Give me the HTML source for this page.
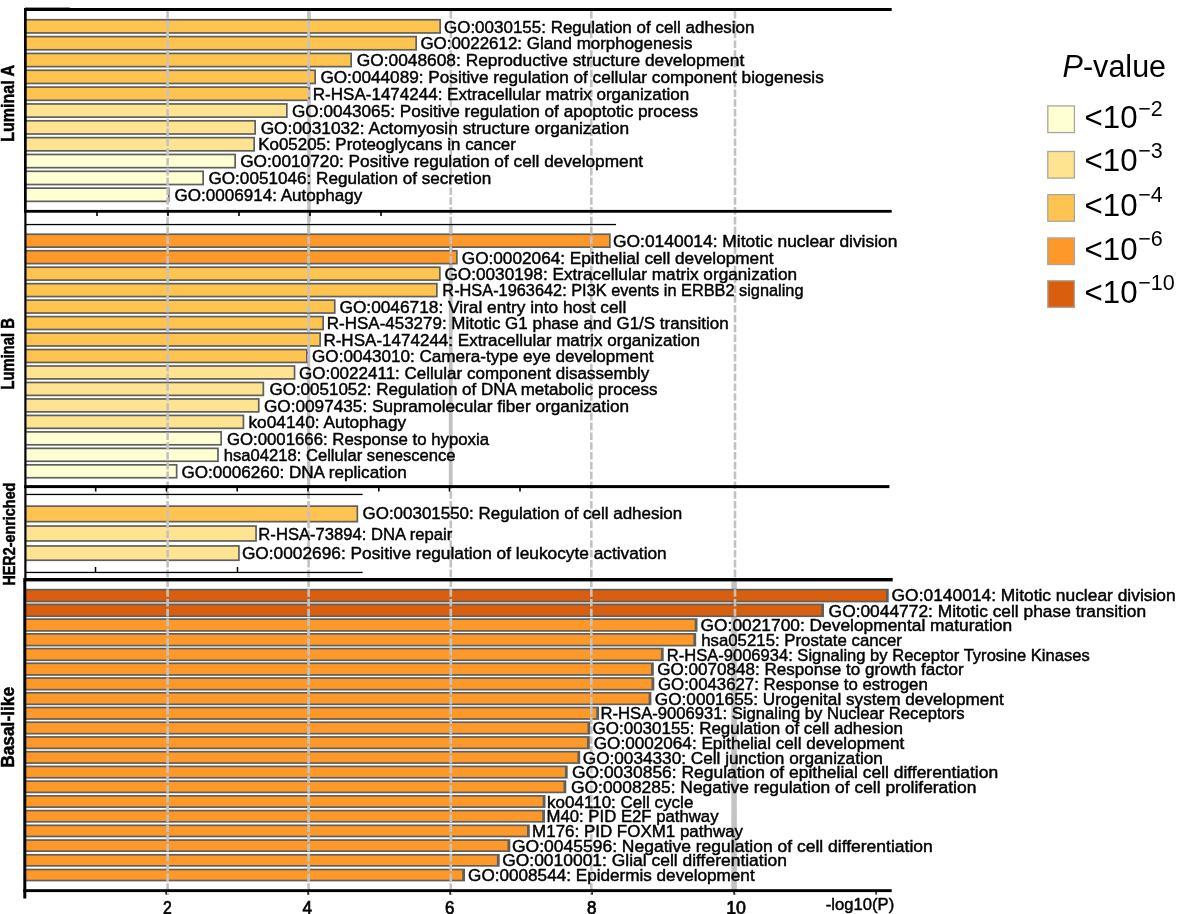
<!DOCTYPE html><html><head><meta charset="utf-8"><style>html,body{margin:0;padding:0;background:#fff;}svg{display:block;}text{font-family:"Liberation Sans", sans-serif;}</style></head><body>
<svg style="will-change:transform" width="1200" height="914" viewBox="0 0 1200 914">
<rect width="1200" height="914" fill="#fff"/>
<rect x="307.3" y="11.5" width="3.5" height="210.5" fill="#c4c4c4"/>
<rect x="448.8" y="225" width="3.8" height="260.5" fill="#c4c4c4"/>
<rect x="307" y="225" width="3.3" height="260.5" fill="#c4c4c4"/>
<rect x="731.3" y="581.5" width="5.5" height="308" fill="#c4c4c4"/>
<rect x="25" y="18.9" width="416" height="14.9" fill="#5f5f5c"/>
<rect x="25" y="20.6" width="414.3" height="11.5" fill="#fec44f"/>
<rect x="25" y="35.74" width="392" height="14.9" fill="#5f5f5c"/>
<rect x="25" y="37.44" width="390.3" height="11.5" fill="#fec44f"/>
<rect x="25" y="52.58" width="327" height="14.9" fill="#5f5f5c"/>
<rect x="25" y="54.28" width="325.3" height="11.5" fill="#fec44f"/>
<rect x="25" y="69.42" width="291" height="14.9" fill="#5f5f5c"/>
<rect x="25" y="71.12" width="289.3" height="11.5" fill="#fec44f"/>
<rect x="25" y="86.26" width="285" height="14.9" fill="#5f5f5c"/>
<rect x="25" y="87.96" width="283.3" height="11.5" fill="#fec44f"/>
<rect x="25" y="103.1" width="262.7" height="14.9" fill="#5f5f5c"/>
<rect x="25" y="104.8" width="261" height="11.5" fill="#fee391"/>
<rect x="25" y="119.94" width="231" height="14.9" fill="#5f5f5c"/>
<rect x="25" y="121.64" width="229.3" height="11.5" fill="#fee391"/>
<rect x="25" y="136.78" width="230" height="14.9" fill="#5f5f5c"/>
<rect x="25" y="138.48" width="228.3" height="11.5" fill="#fee391"/>
<rect x="25" y="153.62" width="211" height="14.9" fill="#5f5f5c"/>
<rect x="25" y="155.32" width="209.3" height="11.5" fill="#ffffd4"/>
<rect x="25" y="170.46" width="179" height="14.9" fill="#5f5f5c"/>
<rect x="25" y="172.16" width="177.3" height="11.5" fill="#ffffd4"/>
<rect x="25" y="187.3" width="144.6" height="14.9" fill="#5f5f5c"/>
<rect x="25" y="189" width="142.9" height="11.5" fill="#ffffd4"/>
<rect x="25" y="233.4" width="585.7" height="14.6" fill="#5f5f5c"/>
<rect x="25" y="235.1" width="584" height="11.2" fill="#fe9929"/>
<rect x="25" y="249.87" width="432.7" height="14.6" fill="#5f5f5c"/>
<rect x="25" y="251.57" width="431" height="11.2" fill="#fe9929"/>
<rect x="25" y="266.34" width="415.7" height="14.6" fill="#5f5f5c"/>
<rect x="25" y="268.04" width="414" height="11.2" fill="#fec44f"/>
<rect x="25" y="282.81" width="412.7" height="14.6" fill="#5f5f5c"/>
<rect x="25" y="284.51" width="411" height="11.2" fill="#fec44f"/>
<rect x="25" y="299.28" width="310.6" height="14.6" fill="#5f5f5c"/>
<rect x="25" y="300.98" width="308.9" height="11.2" fill="#fec44f"/>
<rect x="25" y="315.75" width="299" height="14.6" fill="#5f5f5c"/>
<rect x="25" y="317.45" width="297.3" height="11.2" fill="#fec44f"/>
<rect x="25" y="332.22" width="296" height="14.6" fill="#5f5f5c"/>
<rect x="25" y="333.92" width="294.3" height="11.2" fill="#fec44f"/>
<rect x="25" y="348.69" width="282.7" height="14.6" fill="#5f5f5c"/>
<rect x="25" y="350.39" width="281" height="11.2" fill="#fec44f"/>
<rect x="25" y="365.16" width="270.4" height="14.6" fill="#5f5f5c"/>
<rect x="25" y="366.86" width="268.7" height="11.2" fill="#fee391"/>
<rect x="25" y="381.63" width="239.2" height="14.6" fill="#5f5f5c"/>
<rect x="25" y="383.33" width="237.5" height="11.2" fill="#fee391"/>
<rect x="25" y="398.1" width="234.6" height="14.6" fill="#5f5f5c"/>
<rect x="25" y="399.8" width="232.9" height="11.2" fill="#fee391"/>
<rect x="25" y="414.57" width="219.3" height="14.6" fill="#5f5f5c"/>
<rect x="25" y="416.27" width="217.6" height="11.2" fill="#fee391"/>
<rect x="25" y="431.04" width="197" height="14.6" fill="#5f5f5c"/>
<rect x="25" y="432.74" width="195.3" height="11.2" fill="#ffffd4"/>
<rect x="25" y="447.51" width="193.8" height="14.6" fill="#5f5f5c"/>
<rect x="25" y="449.21" width="192.1" height="11.2" fill="#ffffd4"/>
<rect x="25" y="463.98" width="152.5" height="14.6" fill="#5f5f5c"/>
<rect x="25" y="465.68" width="150.8" height="11.2" fill="#ffffd4"/>
<rect x="25" y="505.3" width="333.2" height="17.2" fill="#5f5f5c"/>
<rect x="25" y="507" width="331.5" height="13.8" fill="#fec44f"/>
<rect x="25" y="525.2" width="231.9" height="16.6" fill="#5f5f5c"/>
<rect x="25" y="526.9" width="230.2" height="13.2" fill="#fee391"/>
<rect x="25" y="545.1" width="214.8" height="16" fill="#5f5f5c"/>
<rect x="25" y="546.8" width="213.1" height="12.6" fill="#fee391"/>
<rect x="25" y="588.8" width="863.7" height="13.6" fill="#5f5f5c"/>
<rect x="25" y="590.5" width="860.9" height="10.2" fill="#d95f0e"/>
<rect x="25" y="603.53" width="799" height="13.55" fill="#5f5f5c"/>
<rect x="25" y="605.23" width="796.2" height="10.15" fill="#d95f0e"/>
<rect x="25" y="618.26" width="672.5" height="13.51" fill="#5f5f5c"/>
<rect x="25" y="619.96" width="669.7" height="10.11" fill="#fe9929"/>
<rect x="25" y="632.99" width="671.2" height="13.46" fill="#5f5f5c"/>
<rect x="25" y="634.69" width="668.4" height="10.06" fill="#fe9929"/>
<rect x="25" y="647.72" width="638.7" height="13.41" fill="#5f5f5c"/>
<rect x="25" y="649.42" width="635.9" height="10.01" fill="#fe9929"/>
<rect x="25" y="662.45" width="628.8" height="13.36" fill="#5f5f5c"/>
<rect x="25" y="664.15" width="626" height="9.96" fill="#fe9929"/>
<rect x="25" y="677.18" width="629.3" height="13.32" fill="#5f5f5c"/>
<rect x="25" y="678.88" width="626.5" height="9.92" fill="#fe9929"/>
<rect x="25" y="691.91" width="626.4" height="13.27" fill="#5f5f5c"/>
<rect x="25" y="693.61" width="623.6" height="9.87" fill="#fe9929"/>
<rect x="25" y="706.64" width="574.1" height="13.22" fill="#5f5f5c"/>
<rect x="25" y="708.34" width="571.3" height="9.82" fill="#fe9929"/>
<rect x="25" y="721.37" width="565.3" height="13.17" fill="#5f5f5c"/>
<rect x="25" y="723.07" width="562.5" height="9.77" fill="#fe9929"/>
<rect x="25" y="736.1" width="564.8" height="13.13" fill="#5f5f5c"/>
<rect x="25" y="737.8" width="562" height="9.73" fill="#fe9929"/>
<rect x="25" y="750.83" width="555.2" height="13.08" fill="#5f5f5c"/>
<rect x="25" y="752.53" width="552.4" height="9.68" fill="#fe9929"/>
<rect x="25" y="765.56" width="542.7" height="13.03" fill="#5f5f5c"/>
<rect x="25" y="767.26" width="539.9" height="9.63" fill="#fe9929"/>
<rect x="25" y="780.29" width="541.3" height="12.98" fill="#5f5f5c"/>
<rect x="25" y="781.99" width="538.5" height="9.58" fill="#fe9929"/>
<rect x="25" y="795.02" width="520.5" height="12.94" fill="#5f5f5c"/>
<rect x="25" y="796.72" width="517.7" height="9.54" fill="#fe9929"/>
<rect x="25" y="809.75" width="520" height="12.89" fill="#5f5f5c"/>
<rect x="25" y="811.45" width="517.2" height="9.49" fill="#fe9929"/>
<rect x="25" y="824.48" width="504.8" height="12.84" fill="#5f5f5c"/>
<rect x="25" y="826.18" width="502" height="9.44" fill="#fe9929"/>
<rect x="25" y="839.21" width="485.3" height="12.79" fill="#5f5f5c"/>
<rect x="25" y="840.91" width="482.5" height="9.39" fill="#fe9929"/>
<rect x="25" y="853.94" width="474.7" height="12.75" fill="#5f5f5c"/>
<rect x="25" y="855.64" width="471.9" height="9.35" fill="#fe9929"/>
<rect x="25" y="868.67" width="440" height="12.7" fill="#5f5f5c"/>
<rect x="25" y="870.37" width="437.2" height="9.3" fill="#fe9929"/>
<line x1="167.6" y1="11" x2="167.6" y2="895" stroke="#c2c2c2" stroke-width="2.6" stroke-dasharray="7.6 2.2"/>
<line x1="308.6" y1="11" x2="308.6" y2="895" stroke="#c2c2c2" stroke-width="2.6" stroke-dasharray="7.6 2.2"/>
<line x1="450.8" y1="11" x2="450.8" y2="895" stroke="#c2c2c2" stroke-width="2.6" stroke-dasharray="7.6 2.2"/>
<line x1="591.3" y1="11" x2="591.3" y2="895" stroke="#c2c2c2" stroke-width="2.6" stroke-dasharray="7.6 2.2"/>
<line x1="735" y1="11" x2="735" y2="895" stroke="#c2c2c2" stroke-width="2.6" stroke-dasharray="7.6 2.2"/>
<g fill="#000" stroke="#000" stroke-width="0.45"><text x="443.99" y="32.57" font-size="17.2" textLength="310.53" lengthAdjust="spacingAndGlyphs">GO:0030155: Regulation of cell adhesion</text>
<text x="420.39" y="49.41" font-size="17.2" textLength="272.05" lengthAdjust="spacingAndGlyphs">GO:0022612: Gland morphogenesis</text>
<text x="356.71" y="66.25" font-size="17.2" textLength="387.51" lengthAdjust="spacingAndGlyphs">GO:0048608: Reproductive structure development</text>
<text x="320.4" y="83.09" font-size="17.2" textLength="503.39" lengthAdjust="spacingAndGlyphs">GO:0044089: Positive regulation of cellular component biogenesis</text>
<text x="312.83" y="99.93" font-size="17.2" textLength="376.34" lengthAdjust="spacingAndGlyphs">R-HSA-1474244: Extracellular matrix organization</text>
<text x="291.98" y="116.77" font-size="17.2" textLength="406.07" lengthAdjust="spacingAndGlyphs">GO:0043065: Positive regulation of apoptotic process</text>
<text x="260.67" y="133.61" font-size="17.2" textLength="368.4" lengthAdjust="spacingAndGlyphs">GO:0031032: Actomyosin structure organization</text>
<text x="258.26" y="150.45" font-size="17.2" textLength="257.66" lengthAdjust="spacingAndGlyphs">Ko05205: Proteoglycans in cancer</text>
<text x="240.19" y="167.29" font-size="17.2" textLength="402.86" lengthAdjust="spacingAndGlyphs">GO:0010720: Positive regulation of cell development</text>
<text x="208.48" y="184.13" font-size="17.2" textLength="282.73" lengthAdjust="spacingAndGlyphs">GO:0051046: Regulation of secretion</text>
<text x="174.44" y="200.97" font-size="17.2" textLength="187.88" lengthAdjust="spacingAndGlyphs">GO:0006914: Autophagy</text>
<text x="613.04" y="247.07" font-size="17.2" textLength="284.38" lengthAdjust="spacingAndGlyphs">GO:0140014: Mitotic nuclear division</text>
<text x="461.76" y="263.54" font-size="17.2" textLength="311.78" lengthAdjust="spacingAndGlyphs">GO:0002064: Epithelial cell development</text>
<text x="444.48" y="280.01" font-size="17.2" textLength="352.56" lengthAdjust="spacingAndGlyphs">GO:0030198: Extracellular matrix organization</text>
<text x="442.36" y="296.48" font-size="17.2" textLength="361.14" lengthAdjust="spacingAndGlyphs">R-HSA-1963642: PI3K events in ERBB2 signaling</text>
<text x="339.47" y="312.95" font-size="17.2" textLength="286.79" lengthAdjust="spacingAndGlyphs">GO:0046718: Viral entry into host cell</text>
<text x="326.85" y="329.42" font-size="17.2" textLength="401.88" lengthAdjust="spacingAndGlyphs">R-HSA-453279: Mitotic G1 phase and G1/S transition</text>
<text x="323.41" y="345.89" font-size="17.2" textLength="376.62" lengthAdjust="spacingAndGlyphs">R-HSA-1474244: Extracellular matrix organization</text>
<text x="312.04" y="362.36" font-size="17.2" textLength="341.37" lengthAdjust="spacingAndGlyphs">GO:0043010: Camera-type eye development</text>
<text x="298.99" y="378.83" font-size="17.2" textLength="350.37" lengthAdjust="spacingAndGlyphs">GO:0022411: Cellular component disassembly</text>
<text x="269.46" y="395.3" font-size="17.2" textLength="388.11" lengthAdjust="spacingAndGlyphs">GO:0051052: Regulation of DNA metabolic process</text>
<text x="263.91" y="411.77" font-size="17.2" textLength="365.2" lengthAdjust="spacingAndGlyphs">GO:0097435: Supramolecular fiber organization</text>
<text x="248.48" y="428.24" font-size="17.2" textLength="157.74" lengthAdjust="spacingAndGlyphs">ko04140: Autophagy</text>
<text x="226.95" y="444.71" font-size="17.2" textLength="262.08" lengthAdjust="spacingAndGlyphs">GO:0001666: Response to hypoxia</text>
<text x="223.7" y="461.18" font-size="17.2" textLength="231.86" lengthAdjust="spacingAndGlyphs">hsa04218: Cellular senescence</text>
<text x="181.49" y="477.65" font-size="17.2" textLength="225.23" lengthAdjust="spacingAndGlyphs">GO:0006260: DNA replication</text>
<text x="362.5" y="518.97" font-size="17.2" textLength="319.58" lengthAdjust="spacingAndGlyphs">GO:00301550: Regulation of cell adhesion</text>
<text x="258.35" y="539.97" font-size="17.2" textLength="193.96" lengthAdjust="spacingAndGlyphs">R-HSA-73894: DNA repair</text>
<text x="241.91" y="559.22" font-size="17.2" textLength="424.83" lengthAdjust="spacingAndGlyphs">GO:0002696: Positive regulation of leukocyte activation</text>
<text x="891.6" y="600.88" font-size="16.8" textLength="284.07" lengthAdjust="spacingAndGlyphs">GO:0140014: Mitotic nuclear division</text>
<text x="828.64" y="616.99" font-size="16.8" textLength="317.48" lengthAdjust="spacingAndGlyphs">GO:0044772: Mitotic cell phase transition</text>
<text x="700.64" y="631.19" font-size="16.8" textLength="311.41" lengthAdjust="spacingAndGlyphs">GO:0021700: Developmental maturation</text>
<text x="701.2" y="645.9" font-size="16.8" textLength="200.74" lengthAdjust="spacingAndGlyphs">hsa05215: Prostate cancer</text>
<text x="666.71" y="660.6" font-size="16.8" textLength="423.02" lengthAdjust="spacingAndGlyphs">R-HSA-9006934: Signaling by Receptor Tyrosine Kinases</text>
<text x="657.28" y="675.31" font-size="16.8" textLength="306.43" lengthAdjust="spacingAndGlyphs">GO:0070848: Response to growth factor</text>
<text x="658.07" y="690.02" font-size="16.8" textLength="269.69" lengthAdjust="spacingAndGlyphs">GO:0043627: Response to estrogen</text>
<text x="654.82" y="704.72" font-size="16.8" textLength="348.92" lengthAdjust="spacingAndGlyphs">GO:0001655: Urogenital system development</text>
<text x="600.51" y="719.43" font-size="16.8" textLength="364.14" lengthAdjust="spacingAndGlyphs">R-HSA-9006931: Signaling by Nuclear Receptors</text>
<text x="592.64" y="734.14" font-size="16.8" textLength="310.21" lengthAdjust="spacingAndGlyphs">GO:0030155: Regulation of cell adhesion</text>
<text x="593.73" y="748.84" font-size="16.8" textLength="310.64" lengthAdjust="spacingAndGlyphs">GO:0002064: Epithelial cell development</text>
<text x="582.78" y="763.55" font-size="16.8" textLength="300.13" lengthAdjust="spacingAndGlyphs">GO:0034330: Cell junction organization</text>
<text x="571.95" y="778.25" font-size="16.8" textLength="426.16" lengthAdjust="spacingAndGlyphs">GO:0030856: Regulation of epithelial cell differentiation</text>
<text x="570.99" y="792.96" font-size="16.8" textLength="405.36" lengthAdjust="spacingAndGlyphs">GO:0008285: Negative regulation of cell proliferation</text>
<text x="547.07" y="807.67" font-size="16.8" textLength="146.31" lengthAdjust="spacingAndGlyphs">ko04110: Cell cycle</text>
<text x="546.49" y="822.37" font-size="16.8" textLength="172.07" lengthAdjust="spacingAndGlyphs">M40: PID E2F pathway</text>
<text x="532.13" y="837.08" font-size="16.8" textLength="210.9" lengthAdjust="spacingAndGlyphs">M176: PID FOXM1 pathway</text>
<text x="511.95" y="851.79" font-size="16.8" textLength="420.84" lengthAdjust="spacingAndGlyphs">GO:0045596: Negative regulation of cell differentiation</text>
<text x="502.19" y="866.49" font-size="16.8" textLength="284.74" lengthAdjust="spacingAndGlyphs">GO:0010001: Glial cell differentiation</text>
<text x="468.13" y="881.2" font-size="16.8" textLength="286.54" lengthAdjust="spacingAndGlyphs">GO:0008544: Epidermis development</text></g>
<rect x="24" y="8.6" width="2.7" height="203" fill="#000"/>
<rect x="24.3" y="211" width="2.2" height="370" fill="#000"/>
<rect x="23.3" y="580.5" width="3" height="318" fill="#000"/>
<rect x="24" y="8.0" width="867.7" height="3.0" fill="#000"/>
<rect x="25" y="7.6" width="45" height="1.5" fill="#000"/>
<rect x="24" y="209.9" width="867.7" height="2.8" fill="#000"/>
<rect x="96.2" y="212" width="1.6" height="4" fill="#000"/>
<rect x="167.2" y="212" width="1.6" height="4" fill="#000"/>
<rect x="238.2" y="212" width="1.6" height="4" fill="#000"/>
<rect x="309.2" y="212" width="1.6" height="4" fill="#000"/>
<rect x="380.2" y="212" width="1.6" height="4" fill="#000"/>
<rect x="25" y="223.9" width="591" height="1.3" fill="#000"/>
<rect x="24" y="485.1" width="865.4" height="3.0" fill="#000"/>
<rect x="94.9" y="487.5" width="1.6" height="4" fill="#000"/>
<rect x="165.7" y="487.5" width="1.6" height="4" fill="#000"/>
<rect x="236.4" y="487.5" width="1.6" height="4" fill="#000"/>
<rect x="307.2" y="487.5" width="1.6" height="4" fill="#000"/>
<rect x="378" y="487.5" width="1.6" height="4" fill="#000"/>
<rect x="448.7" y="487.5" width="1.6" height="4" fill="#000"/>
<rect x="519.2" y="487.5" width="1.6" height="4" fill="#000"/>
<rect x="25" y="493.8" width="337.6" height="1.3" fill="#000"/>
<rect x="25" y="571.8" width="337.6" height="1.3" fill="#000"/>
<rect x="94.75" y="567" width="1.5" height="5" fill="#000"/>
<rect x="236.75" y="567" width="1.5" height="5" fill="#000"/>
<rect x="23.3" y="578.0" width="869.4" height="3.4" fill="#000"/>
<rect x="23.3" y="889.2" width="868.4" height="2.9" fill="#000"/>
<rect x="165.4" y="891" width="1.4" height="3.6" fill="#000"/>
<rect x="307.4" y="891" width="1.4" height="3.6" fill="#000"/>
<rect x="449.4" y="891" width="1.4" height="3.6" fill="#000"/>
<rect x="591.4" y="891" width="1.4" height="3.6" fill="#000"/>
<rect x="733.4" y="891" width="1.4" height="3.6" fill="#000"/>
<rect x="875.4" y="891" width="1.4" height="3.6" fill="#000"/>
<text transform="translate(14.1,141.8) rotate(-90)" font-size="18.2" font-weight="bold" stroke="#000" stroke-width="0.5" textLength="76.8" lengthAdjust="spacingAndGlyphs">Luminal A</text>
<text transform="translate(13.8,389.5) rotate(-90)" font-size="17.8" font-weight="bold" stroke="#000" stroke-width="0.5" textLength="71.4" lengthAdjust="spacingAndGlyphs">Luminal B</text>
<text transform="translate(15.3,585.6) rotate(-90)" font-size="16.7" font-weight="bold" stroke="#000" stroke-width="0.5" textLength="103" lengthAdjust="spacingAndGlyphs">HER2-enriched</text>
<text transform="translate(14.3,767.8) rotate(-90)" font-size="18.3" font-weight="bold" stroke="#000" stroke-width="0.5" textLength="80.9" lengthAdjust="spacingAndGlyphs">Basal-like</text>
<text x="163" y="914.2" font-size="18.3" textLength="8.8" lengthAdjust="spacingAndGlyphs" stroke="#000" stroke-width="0.7">2</text>
<text x="302.4" y="914.2" font-size="18.3" textLength="9.6" lengthAdjust="spacingAndGlyphs" stroke="#000" stroke-width="0.7">4</text>
<text x="445" y="914.2" font-size="18.3" textLength="9.4" lengthAdjust="spacingAndGlyphs" stroke="#000" stroke-width="0.7">6</text>
<text x="587" y="914.2" font-size="18.3" textLength="9.4" lengthAdjust="spacingAndGlyphs" stroke="#000" stroke-width="0.7">8</text>
<text x="726.2" y="914.2" font-size="18.3" textLength="19.8" lengthAdjust="spacingAndGlyphs" stroke="#000" stroke-width="0.7">10</text>
<text x="825.8" y="909.8" font-size="16.6" textLength="68.4" lengthAdjust="spacingAndGlyphs" stroke="#000" stroke-width="0.45">-log10(P)</text>
<text x="1062.6" y="77" font-size="31" textLength="103.5" lengthAdjust="spacingAndGlyphs"><tspan font-style="italic">P</tspan>-value</text>
<rect x="1047.8" y="105.95" width="26.6" height="26.6" fill="#ffffd4" stroke="#a9a79c" stroke-width="1.3"/>
<text x="1084.6" y="128" font-size="32" textLength="53" lengthAdjust="spacingAndGlyphs">&lt;10</text>
<text x="1138.2" y="115.8" font-size="21.5">−2</text>
<rect x="1047.8" y="151.45" width="26.6" height="26.6" fill="#fee391" stroke="#a9a79c" stroke-width="1.3"/>
<text x="1084.6" y="171.1" font-size="32" textLength="53" lengthAdjust="spacingAndGlyphs">&lt;10</text>
<text x="1138.2" y="158.4" font-size="21.5">−3</text>
<rect x="1047.8" y="194.65" width="26.6" height="26.6" fill="#fec44f" stroke="#a9a79c" stroke-width="1.3"/>
<text x="1084.6" y="215.9" font-size="32" textLength="53" lengthAdjust="spacingAndGlyphs">&lt;10</text>
<text x="1138.2" y="202" font-size="21.5">−4</text>
<rect x="1047.8" y="237.95" width="26.6" height="26.6" fill="#fe9929" stroke="#a9a79c" stroke-width="1.3"/>
<text x="1084.6" y="259.5" font-size="32" textLength="53" lengthAdjust="spacingAndGlyphs">&lt;10</text>
<text x="1138.2" y="246.3" font-size="21.5">−6</text>
<rect x="1047.8" y="280.75" width="26.6" height="26.6" fill="#d95f0e" stroke="#a9a79c" stroke-width="1.3"/>
<text x="1084.6" y="303" font-size="32" textLength="53" lengthAdjust="spacingAndGlyphs">&lt;10</text>
<text x="1138.2" y="289.8" font-size="21.5">−10</text>
</svg></body></html>
